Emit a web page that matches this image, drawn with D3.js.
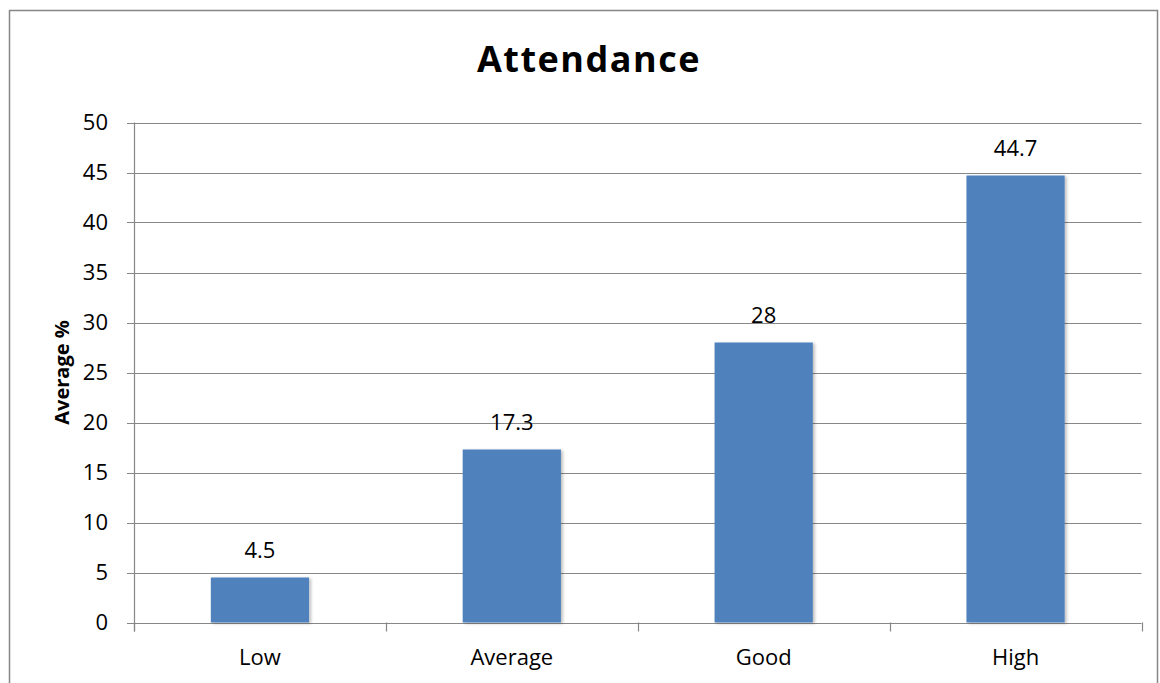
<!DOCTYPE html>
<html>
<head>
<meta charset="utf-8">
<script src="https://cdn.jsdelivr.net/npm/d3@7"></script>
<style>
  body { margin: 0; background: #fff; }
  text { font-family: "Open Sans", "Liberation Sans", sans-serif; fill: #000; }
</style>
</head>
<body>
<div id="container"></div>
<script>
// data
const categories = ["Low", "Average", "Good", "High"];
const values = [4.5, 17.3, 28, 44.7];
const yTicks = [0, 5, 10, 15, 20, 25, 30, 35, 40, 45, 50];

const width = 1160, height = 683,
    margin = { top: 122.5, bottom: 60.5, left: 134, right: 18.5 };

const svg = d3.select("#container")
    .append("svg")
    .attr("width", width)
    .attr("height", height);

// soft shadow for bars
const defs = svg.append("defs");
const f = defs.append("filter").attr("id", "shadow")
    .attr("x", "-10%").attr("y", "-10%").attr("width", "130%").attr("height", "130%");
f.append("feDropShadow")
    .attr("dx", 2).attr("dy", 1).attr("stdDeviation", 1.5)
    .attr("flood-color", "#000").attr("flood-opacity", 0.25);

// outer border
svg.append("rect")
    .attr("x", 9.5).attr("y", 10.5)
    .attr("width", 1148).attr("height", 690)
    .attr("fill", "none")
    .attr("stroke", "#868686")
    .attr("stroke-width", 1.5);

const x = d3.scaleBand()
    .domain(categories)
    .range([margin.left, width - margin.right])
    .paddingInner(0.61)
    .paddingOuter(0.305);

const y = d3.scaleLinear()
    .domain([0, 50])
    .range([height - margin.bottom, margin.top]);

// gridlines
svg.append("g")
    .selectAll("line")
    .data(yTicks)
    .join("line")
    .attr("x1", margin.left - 7)
    .attr("x2", width - margin.right)
    .attr("y1", d => Math.round(y(d)) + 0.5)
    .attr("y2", d => Math.round(y(d)) + 0.5)
    .attr("stroke", "#878787")
    .attr("stroke-width", 1.2);

// y axis line
svg.append("line")
    .attr("x1", margin.left + 0.5).attr("x2", margin.left + 0.5)
    .attr("y1", y(50)).attr("y2", y(0) + 9)
    .attr("stroke", "#878787")
    .attr("stroke-width", 1.2);

// x category boundary ticks
const step = (width - margin.right - margin.left) / categories.length;
svg.append("g")
    .selectAll("line")
    .data(d3.range(categories.length + 1))
    .join("line")
    .attr("x1", i => Math.round(margin.left + i * step) + 0.5)
    .attr("x2", i => Math.round(margin.left + i * step) + 0.5)
    .attr("y1", y(0))
    .attr("y2", y(0) + 9)
    .attr("stroke", "#878787")
    .attr("stroke-width", 1.2);

// y tick labels
svg.append("g")
    .selectAll("text")
    .data(yTicks)
    .join("text")
    .attr("x", margin.left - 26)
    .attr("y", d => y(d))
    .attr("dy", "0.35em")
    .attr("text-anchor", "end")
    .style("font-size", "22px")
    .text(d => d);

// bars
svg.append("g")
    .selectAll("rect")
    .data(values)
    .join("rect")
    .attr("x", (d, i) => x(categories[i]))
    .attr("y", d => y(d))
    .attr("width", x.bandwidth())
    .attr("height", d => y(0) - y(d))
    .attr("fill", "#4F81BD")
    .attr("filter", "url(#shadow)");

// value labels
svg.append("g")
    .selectAll("text")
    .data(values)
    .join("text")
    .attr("x", (d, i) => x(categories[i]) + x.bandwidth() / 2)
    .attr("y", d => y(d) - 27)
    .attr("dy", "0.35em")
    .attr("text-anchor", "middle")
    .style("font-size", "22px")
    .text(d => d);

// category labels
svg.append("g")
    .selectAll("text")
    .data(categories)
    .join("text")
    .attr("x", d => x(d) + x.bandwidth() / 2)
    .attr("y", y(0) + 35)
    .attr("dy", "0.35em")
    .attr("text-anchor", "middle")
    .style("font-size", "22px")
    .text(d => d);

// title
svg.append("text")
    .attr("x", 589)
    .attr("y", 59)
    .attr("dy", "0.35em")
    .attr("text-anchor", "middle")
    .style("font-size", "36px")
    .style("font-weight", "bold")
    .style("letter-spacing", "1.5px")
    .text("Attendance");

// y axis title
svg.append("text")
    .attr("transform", `translate(62,${(y(0) + y(50)) / 2}) rotate(-90)`)
    .attr("dy", "0.35em")
    .attr("text-anchor", "middle")
    .style("font-size", "20px")
    .style("font-weight", "bold")
    .text("Average %");
</script>
</body>
</html>
